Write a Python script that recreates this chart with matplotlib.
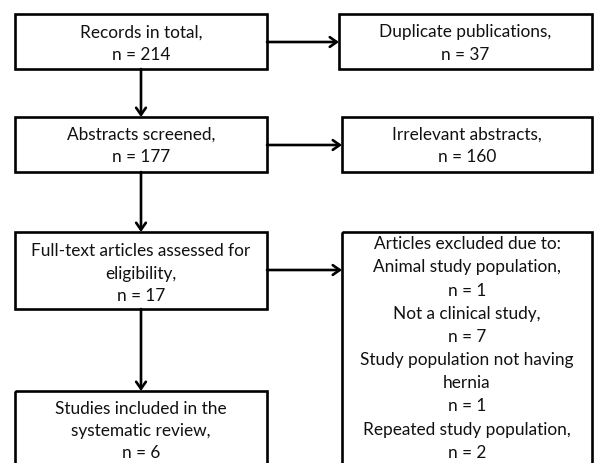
import matplotlib.pyplot as plt
from matplotlib.patches import Rectangle

# textove data diagramu
left_labels = [
    "Records in total,\nn = 214",
    "Abstracts screened,\nn = 177",
    "Full-text articles assessed for\neligibility,\nn = 17",
    "Studies included in the\nsystematic review,\nn = 6",
]
right_labels = [
    "Duplicate publications,\nn = 37",
    "Irrelevant abstracts,\nn = 160",
    "Articles excluded due to:\nAnimal study population,\nn = 1\nNot a clinical study,\nn = 7\n"
    "Study population not having\nhernia\nn = 1\nRepeated study population,\nn = 2",
]

# rozmery boxu v pixelech (x0, y0, x1, y1)
left_boxes = [(15, 14, 267, 69), (15, 117, 267, 172), (15, 232, 267, 309), (15, 391, 267, 475)]
right_boxes = [(339, 14, 592, 69), (342, 117, 592, 172), (342, 232, 592, 475)]
left_text_y = [43.5, 146, 273.5, 431]
right_text_y = [43.5, 146, 348.5]

fig = plt.figure(figsize=(5.94, 4.63), dpi=100)
ax = fig.add_axes([0, 0, 1, 1])
ax.set_xlim(0, 594)
ax.set_ylim(463, 0)
ax.axis("off")

font = dict(family="Lato", fontsize=12.4, ha="center", va="center", linespacing=1.5, color="#111111")
lw = 1.9


def box(b, label, ty, ls):
    x0, y0, x1, y1 = b
    ax.add_patch(Rectangle((x0, y0), x1 - x0, y1 - y0, fill=False, edgecolor="black", linewidth=lw))
    ax.text((x0 + x1) / 2, ty, label, **{**font, "linespacing": ls})


for b, lab, ty in zip(left_boxes, left_labels, left_text_y):
    box(b, lab, ty, 1.5)
for b, lab, ty in zip(right_boxes, right_labels, right_text_y):
    box(b, lab, ty, 1.55 if lab.count("\n") > 2 else 1.5)

arrow = dict(arrowstyle="->,head_length=0.5,head_width=0.35", color="black", lw=lw, shrinkA=0, shrinkB=0)

# svisle sipky
cx = 141
for a, b in zip(left_boxes[:-1], left_boxes[1:]):
    ax.annotate("", xy=(cx, b[1]), xytext=(cx, a[3]), arrowprops=arrow)

# vodorovne sipky
arrow_y = [42, 145, 270]
for a, b, y in zip(left_boxes, right_boxes, arrow_y):
    ax.annotate("", xy=(b[0], y), xytext=(a[2], y), arrowprops=arrow)

fig.savefig("out.png", dpi=100)
